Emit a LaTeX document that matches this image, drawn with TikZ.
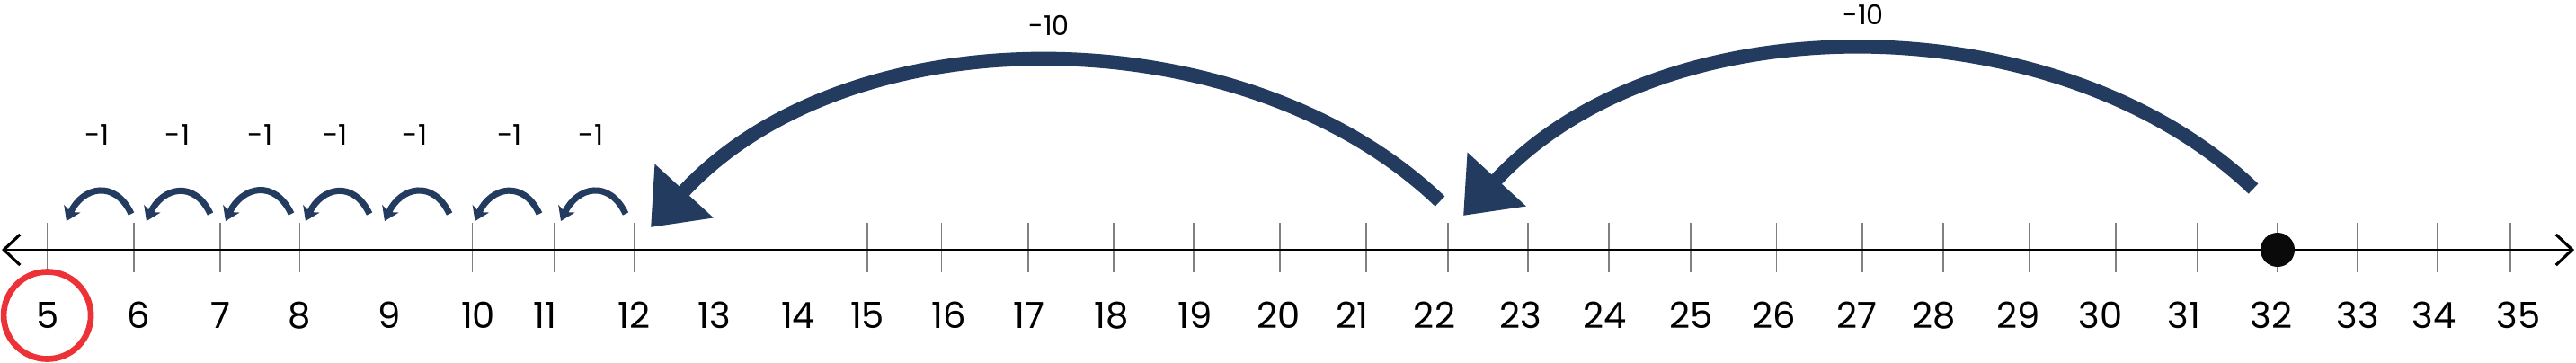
\documentclass[tikz,border=0pt]{standalone}
\usepackage{fontspec}
\setmainfont{Poppins}
\usetikzlibrary{arrows.meta}
\definecolor{jumpblue}{RGB}{34,59,94}
\definecolor{answerred}{RGB}{237,50,55}
\tikzset{
  numline/.style={line width=0.5pt,
    {Straight Barb[length=1.8mm,width=3.4mm,line width=0.9pt]}-{Straight Barb[length=1.8mm,width=3.4mm,line width=0.9pt]}},
  tickmark/.style={black!50, line width=0.4pt},
  numlabel/.style={font=\fontsize{11.4}{13}\selectfont, inner sep=0pt},
  hop/.style={jumpblue, line width=2pt, -{Stealth[length=1.5mm,width=2mm,inset=0.4mm]}},
  hoplabel/.style={font=\fontsize{9}{11}\selectfont, inner sep=0pt},
  leap/.style={jumpblue, line width=4.4pt, -{Triangle[length=5.5mm,width=8.5mm]}},
  leaplabel/.style={font=\fontsize{8.6}{10}\selectfont, inner sep=0pt},
  ring/.style={circle, draw=answerred, line width=1.9pt, minimum size=0.97cm, inner sep=0pt},
  startdot/.style={circle, fill=black!96, minimum size=0.38cm, inner sep=0pt}
}
\begin{document}
\begin{tikzpicture}
    \useasboundingbox (0,-1.25) rectangle (28.66,2.78);
    % ticks and numbers
    \foreach \n/\x/\l in {5/0.526/0.526, 6/1.488/1.54, 7/2.449/2.45, 8/3.334/3.33,
        9/4.295/4.33, 10/5.257/5.32, 11/6.17/6.06, 12/7.06/7.055, 13/7.955/7.947,
        14/8.845/8.88, 15/9.65/9.65, 16/10.475/10.56, 17/11.44/11.45, 18/12.39/12.37,
        19/13.28/13.30, 20/14.24/14.23, 21/15.20/15.04, 22/16.11/15.96, 23/17.00/16.92,
        24/17.90/17.86, 25/18.81/18.82, 26/19.765/19.74, 27/20.72/20.66, 28/21.62/21.52,
        29/22.58/22.46, 30/23.54/23.37, 31/24.45/24.30, 32/25.34/25.27, 33/26.23/26.23,
        34/27.12/27.08, 35/27.93/28.02} {
      \coordinate (t\n) at (\x,0);
      \draw[tickmark] (\x,0.30) -- (\x,-0.25);
      \node[numlabel] (n\n) at (\l,-0.73) {\n};
    }
    \coordinate (west) at (0.02,0);
    \coordinate (east) at (28.64,0);
    \draw[numline] (west) -- (east);
    \node[startdot] (start) at (t32) {};
    \node[ring] (ring) at (n5) {};
    % jumps of one
    \foreach \i/\s/\e/\m in {1/1.46/0.74/1.08, 2/2.34/1.63/1.975, 3/3.24/2.51/2.894,
        4/4.11/3.40/3.73, 5/5.00/4.28/4.616, 6/6.00/5.285/5.668, 7/6.96/6.24/6.577} {
      \coordinate (hs\i) at (\s,0.40);
      \coordinate (he\i) at (\e,0.32);
      \draw[hop] (hs\i) to[out=115,in=65,looseness=1.5] (he\i);
      \node[hoplabel] (h\i) at (\m,1.275) {-1};
    }
    % jumps of ten
    \coordinate (lb0) at (25.07,0.68);
    \coordinate (lb1) at (16.28,0.38);
    \draw[leap] (lb0) .. controls (22.90,2.755) and (18.50,2.795) .. (lb1);
    \node[leaplabel] (lb) at (20.73,2.62) {-10};
    \coordinate (la0) at (16.02,0.54);
    \coordinate (la1) at (7.24,0.25);
    \draw[leap] (la0) .. controls (13.85,2.62) and (9.45,2.66) .. (la1);
    \node[leaplabel] (la) at (11.67,2.50) {-10};
\end{tikzpicture}
\end{document}
